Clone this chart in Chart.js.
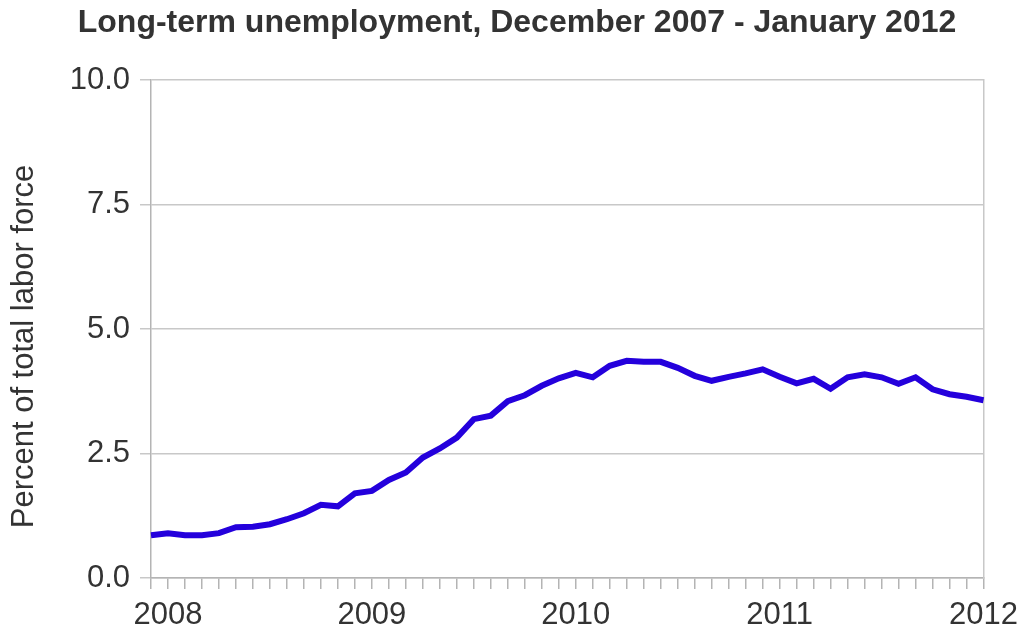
<!DOCTYPE html>
<html>
<head>
<meta charset="utf-8">
<script src="https://cdn.jsdelivr.net/npm/chart.js@4/dist/chart.umd.min.js"></script>
<style>
html,body{margin:0;padding:0;background:#fff;}
#wrap{width:1026px;height:635px;}
</style>
</head>
<body>
<div id="wrap"><canvas id="c" width="1026" height="635"></canvas></div>
<script>
const months = [
 "Dec 2007",
 "Jan 2008","Feb 2008","Mar 2008","Apr 2008","May 2008","Jun 2008","Jul 2008","Aug 2008","Sep 2008","Oct 2008","Nov 2008","Dec 2008",
 "Jan 2009","Feb 2009","Mar 2009","Apr 2009","May 2009","Jun 2009","Jul 2009","Aug 2009","Sep 2009","Oct 2009","Nov 2009","Dec 2009",
 "Jan 2010","Feb 2010","Mar 2010","Apr 2010","May 2010","Jun 2010","Jul 2010","Aug 2010","Sep 2010","Oct 2010","Nov 2010","Dec 2010",
 "Jan 2011","Feb 2011","Mar 2011","Apr 2011","May 2011","Jun 2011","Jul 2011","Aug 2011","Sep 2011","Oct 2011","Nov 2011","Dec 2011",
 "Jan 2012"
];
const longTermUnemployment = [
 0.86,
 0.90,0.86,0.86,0.90,1.02,1.03,1.08,1.18,1.30,1.47,1.44,1.70,
 1.75,1.97,2.12,2.42,2.60,2.82,3.19,3.26,3.55,3.67,3.86,4.01,
 4.12,4.03,4.26,4.36,4.34,4.34,4.22,4.06,3.96,4.04,4.11,4.19,
 4.04,3.91,4.00,3.80,4.03,4.09,4.03,3.90,4.03,3.79,3.69,3.64,
 3.57
];
const yTicks = [0, 2.5, 5, 7.5, 10];
const yTitle = 'Percent of total labor force';

const txt = '#333333';
const gridCol = '#c8c8c8';
const axisCol = '#b4b4b4';
const fam = '"Liberation Sans", Arial, Helvetica, sans-serif';
const fs = 31;

const yTitlePlugin = {
  id: 'yTitleDraw',
  afterDraw(chart) {
    const ctx = chart.ctx;
    ctx.save();
    ctx.translate(33, 346.5);
    ctx.rotate(-Math.PI / 2);
    ctx.fillStyle = txt;
    ctx.font = fs + 'px ' + fam;
    ctx.textAlign = 'center';
    ctx.textBaseline = 'alphabetic';
    ctx.fillText(yTitle, 0, 0);
    ctx.restore();
  }
};

new Chart(document.getElementById('c'), {
  type: 'line',
  data: {
    labels: months,
    datasets: [{
      data: longTermUnemployment,
      borderColor: '#2400dc',
      borderWidth: 6,
      pointRadius: 0,
      fill: false,
      tension: 0,
      borderJoinStyle: 'miter',
      yAxisID: 'y'
    }]
  },
  plugins: [yTitlePlugin],
  options: {
    responsive: false,
    animation: false,
    layout: { padding: { left: 15.5, right: 7.5, top: 4, bottom: 0 } },
    plugins: {
      legend: { display: false },
      tooltip: { enabled: false },
      title: {
        display: true,
        text: 'Long-term unemployment, December 2007 - January 2012',
        color: txt,
        font: { family: fam, size: 32, weight: 'bold' },
        padding: { top: 0, bottom: 37.6 }
      }
    },
    scales: {
      x: {
        type: 'category',
        offset: false,
        afterFit: function(s) { s.height = 57; },
        grid: { display: true, drawOnChartArea: false, drawTicks: true, tickLength: 11, color: axisCol, lineWidth: 1.5 },
        border: { display: true, color: axisCol, width: 1.5 },
        ticks: {
          autoSkip: false, maxRotation: 0, minRotation: 0, padding: 8,
          color: txt, font: { family: fam, size: fs },
          callback: function(v, i) {
            const l = months[i];
            return l.startsWith('Jan') ? l.slice(4) : '';
          }
        }
      },
      y: {
        min: yTicks[0], max: yTicks[yTicks.length - 1],
        afterBuildTicks: function(ax) { ax.ticks = yTicks.map(v => ({ value: v })); },
        afterFit: function(s) { s.width = 135.5; },
        grid: { color: gridCol, tickLength: 11, lineWidth: 1.5 },
        border: { display: true, color: axisCol, width: 1.5 },
        ticks: {
          padding: 10, color: txt, font: { family: fam, size: fs },
          callback: v => Number(v).toFixed(1)
        }
      },
      y2: {
        position: 'right', min: 0, max: 10,
        grid: { display: false },
        ticks: { display: false },
        border: { display: true, color: gridCol, width: 1.5 }
      }
    }
  }
});
</script>
</body>
</html>
